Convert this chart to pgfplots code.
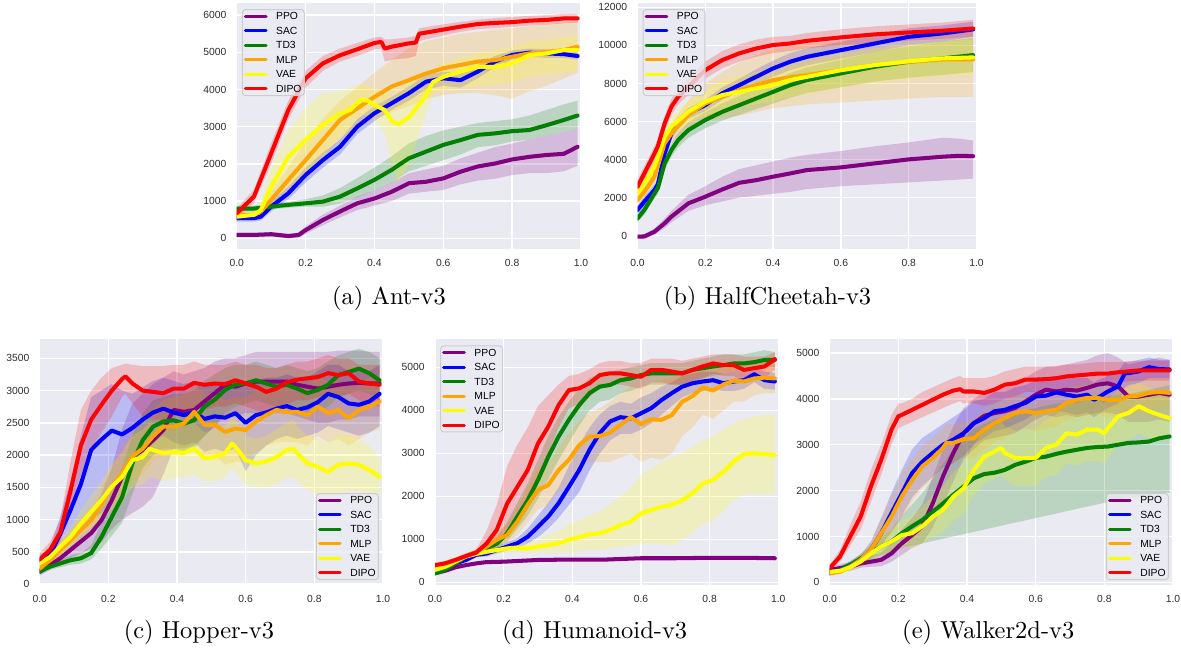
\documentclass[border=0pt]{standalone}
\usepackage{fontspec}
\usepackage{pgfplots}
\usepackage{pgfplotstable}
\pgfplotsset{compat=1.18}
\usepgfplotslibrary{fillbetween}
\newfontfamily\sansf{Liberation Sans}
\definecolor{bgc}{RGB}{234,234,242}
\definecolor{tickc}{RGB}{45,45,45}
\definecolor{cppo}{RGB}{128,0,128}
\definecolor{csac}{RGB}{0,0,255}
\definecolor{ctd}{RGB}{0,128,0}
\definecolor{cmlp}{RGB}{255,165,0}
\definecolor{cvae}{RGB}{255,255,0}
\definecolor{cdipo}{RGB}{255,0,0}

% ---------------- Ant-v3 ----------------
\pgfplotstableread{
x m lo hi
0 90 30 150
0.05 90 30 150
0.1 110 50 170
0.15 60 0 120
0.18 90 20 160
0.2 220 120 320
0.25 490 350 630
0.3 720 560 880
0.35 940 760 1120
0.4 1070 880 1280
0.45 1250 1000 1500
0.5 1480 1200 1750
0.55 1520 1250 1850
0.6 1610 1300 1950
0.65 1790 1450 2150
0.7 1930 1550 2300
0.75 2010 1600 2450
0.8 2120 1700 2550
0.85 2190 1750 2650
0.9 2240 1750 2750
0.95 2270 1800 2850
0.99 2460 1950 2950
}\antPPO
\pgfplotstableread{
x m lo hi
0 540 450 630
0.05 540 450 630
0.07 580 480 680
0.1 850 720 980
0.15 1210 1050 1380
0.2 1700 1500 1900
0.25 2100 1900 2300
0.3 2460 2250 2650
0.35 3000 2800 3200
0.4 3360 3150 3550
0.45 3630 3450 3800
0.5 3900 3700 4080
0.55 4210 4000 4400
0.6 4300 4100 4480
0.65 4250 4050 4450
0.7 4480 4300 4650
0.75 4750 4600 4900
0.8 4930 4800 5050
0.85 4990 4880 5100
0.9 4970 4850 5080
0.95 4950 4850 5050
0.99 4900 4800 5000
}\antSAC
\pgfplotstableread{
x m lo hi
0 800 720 880
0.05 800 720 880
0.1 850 780 920
0.15 900 820 980
0.2 940 850 1050
0.25 985 850 1150
0.3 1120 930 1350
0.35 1340 1100 1620
0.4 1570 1280 1900
0.45 1840 1500 2200
0.5 2150 1800 2550
0.55 2330 1950 2750
0.6 2510 2100 2900
0.65 2640 2250 3000
0.7 2780 2450 3100
0.75 2820 2500 3150
0.8 2880 2600 3200
0.85 2910 2650 3300
0.9 3040 2750 3450
0.95 3180 2850 3600
0.99 3300 2950 3700
}\antTD
\pgfplotstableread{
x m lo hi
0 630 550 720
0.05 630 550 720
0.07 720 620 820
0.1 1030 850 1250
0.15 1570 1300 1900
0.2 2100 1750 2600
0.25 2640 2200 3200
0.3 3180 2650 3700
0.35 3490 2950 4050
0.4 3800 3200 4450
0.45 4080 3400 4800
0.5 4250 3550 5100
0.55 4430 3750 5300
0.6 4570 3850 5400
0.65 4660 3900 5500
0.7 4750 3900 5550
0.75 4790 3850 5600
0.8 4880 3750 5650
0.85 4970 3950 5700
0.9 5010 4100 5750
0.95 5060 4300 5800
0.99 5150 4450 5850
}\antMLP
\pgfplotstableread{
x m lo hi
0 580 500 660
0.05 630 530 730
0.07 760 620 950
0.1 1390 1000 1900
0.15 2190 1400 2900
0.2 2640 1700 3500
0.25 3050 2200 3900
0.3 3350 2700 3950
0.33 3450 2900 4050
0.36 3720 3300 4150
0.38 3700 3300 4100
0.4 3580 3200 4000
0.43 3450 2800 3950
0.45 3150 2000 3850
0.47 3070 1500 4000
0.5 3250 2000 4200
0.53 3600 2800 4300
0.55 3850 3300 4400
0.57 4200 3900 4550
0.6 4340 4000 4700
0.65 4480 4050 4850
0.7 4610 4100 5000
0.75 4610 4150 5050
0.8 4700 4200 5150
0.85 4925 4350 5300
0.9 4970 4400 5350
0.95 5060 4450 5400
0.99 5060 4500 5450
}\antVAE
\pgfplotstableread{
x m lo hi
0 670 550 800
0.05 1120 950 1300
0.1 2280 2000 2550
0.15 3450 3200 3700
0.2 4300 4050 4500
0.25 4700 4500 4900
0.3 4920 4750 5100
0.35 5080 4900 5250
0.4 5250 5080 5400
0.42 5280 5100 5420
0.43 5100 4750 5350
0.45 5150 4800 5350
0.5 5240 4850 5400
0.52 5260 4900 5450
0.53 5500 5300 5650
0.55 5530 5350 5680
0.6 5610 5450 5750
0.65 5690 5550 5820
0.7 5760 5620 5880
0.75 5790 5650 5920
0.8 5810 5680 5950
0.85 5850 5720 5980
0.9 5870 5740 6000
0.95 5910 5780 6030
0.99 5910 5800 6030
}\antDIPO

% ---------------- HalfCheetah-v3 ----------------
\pgfplotstableread{
x m lo hi
0 -50 -150 50
0.02 -40 -150 70
0.05 210 50 380
0.08 650 400 900
0.1 1000 700 1300
0.15 1700 1300 2150
0.2 2050 1600 2600
0.25 2430 1800 3100
0.3 2780 2000 3500
0.35 2920 2100 3700
0.4 3100 2200 3900
0.45 3270 2300 4100
0.5 3450 2450 4250
0.6 3590 2600 4450
0.7 3800 2700 4700
0.8 4010 2800 4900
0.9 4150 2900 5150
0.95 4200 2950 5100
0.99 4180 3000 5000
}\hcPPO
\pgfplotstableread{
x m lo hi
0 1350 1150 1550
0.02 1790 1550 2050
0.05 2400 2150 2700
0.06 2700 2400 3000
0.08 4320 4000 4650
0.1 5380 5050 5700
0.12 5900 5600 6200
0.15 6430 6150 6700
0.2 6860 6550 7150
0.25 7480 7150 7800
0.3 7910 7550 8250
0.35 8350 7950 8750
0.4 8790 8350 9200
0.45 9140 8700 9600
0.5 9400 8950 9850
0.6 9750 9300 10200
0.7 10100 9650 10550
0.8 10450 10000 10900
0.9 10630 10200 11050
0.99 10840 10450 11250
}\hcSAC
\pgfplotstableread{
x m lo hi
0 910 700 1120
0.02 1350 1100 1600
0.05 2220 1950 2500
0.06 2500 2200 2800
0.08 3800 3450 4150
0.1 4500 4150 4850
0.12 5030 4650 5400
0.15 5550 5150 5950
0.2 6080 5650 6500
0.25 6510 6050 6950
0.3 6860 6350 7350
0.35 7210 6650 7750
0.4 7560 6950 8150
0.45 7910 7250 8550
0.5 8180 7500 8850
0.6 8530 7800 9250
0.7 8880 8100 9650
0.8 9140 8300 9950
0.9 9320 8450 10200
0.99 9490 8600 10400
}\hcTD
\pgfplotstableread{
x m lo hi
0 1870 1600 2150
0.02 2300 2000 2600
0.05 3100 2750 3450
0.08 4850 4400 5300
0.1 5380 4900 5900
0.15 6340 5700 7100
0.2 6950 6000 8000
0.25 7300 6200 8600
0.3 7650 6300 9100
0.35 7910 6500 9500
0.4 8180 6700 9800
0.45 8320 6800 9950
0.5 8440 6900 10100
0.6 8700 7000 10250
0.7 8970 7100 10400
0.8 9140 7200 10600
0.9 9260 7300 10750
0.99 9260 7300 10800
}\hcMLP
\pgfplotstableread{
x m lo hi
0 2220 1900 2550
0.02 2750 2400 3100
0.05 3620 3200 4000
0.08 5200 4700 5700
0.1 5730 5200 6250
0.15 6510 5900 7100
0.2 7040 6300 7700
0.25 7390 6600 8150
0.3 7560 6750 8400
0.35 7740 6900 8600
0.4 7910 7050 8800
0.45 8180 7300 9050
0.5 8350 7450 9250
0.6 8700 7800 9600
0.7 8970 8050 9850
0.8 9170 8250 10050
0.9 9320 8400 10200
0.99 9370 8450 10300
}\hcVAE
\pgfplotstableread{
x m lo hi
0 2570 2200 2950
0.02 3270 2900 3650
0.05 4320 3950 4700
0.06 4700 4300 5100
0.08 5900 5500 6300
0.1 6780 6350 7200
0.12 7300 6900 7700
0.15 7830 7400 8250
0.2 8700 8250 9150
0.25 9230 8800 9700
0.3 9580 9150 10050
0.35 9840 9400 10300
0.4 10020 9600 10450
0.45 10100 9700 10500
0.5 10240 9850 10650
0.6 10420 10000 10850
0.7 10580 10150 11000
0.8 10680 10250 11100
0.9 10770 10350 11200
0.99 10890 10450 11350
}\hcDIPO

% ---------------- Hopper-v3 ----------------
\pgfplotstableread{
x m lo hi
0 190 130 250
0.03 290 220 360
0.06 400 300 500
0.09 530 400 680
0.12 660 480 850
0.15 790 550 1050
0.18 990 650 1400
0.21 1300 850 1800
0.24 1660 1000 2400
0.27 1970 1100 2800
0.30 2080 1200 2950
0.33 2230 1350 3100
0.36 2390 1700 3200
0.39 2700 2100 3300
0.42 2670 2100 3250
0.45 2700 2150 3300
0.48 2830 2300 3350
0.51 2960 2450 3450
0.54 3090 2600 3500
0.57 3060 2600 3500
0.60 3110 2650 3550
0.63 3140 2650 3600
0.66 3140 2650 3600
0.69 3140 2650 3600
0.72 3140 2650 3600
0.75 3090 2600 3600
0.78 3060 2550 3600
0.81 3030 2500 3600
0.84 3060 2500 3600
0.87 3090 2550 3620
0.90 3110 2550 3620
0.93 3120 2600 3620
0.96 3110 2600 3600
0.99 3110 2600 3600
}\hoPPO
\pgfplotstableread{
x m lo hi
0 370 300 450
0.03 450 350 560
0.06 780 550 1050
0.09 1150 750 1600
0.12 1550 900 2300
0.15 2080 1000 2900
0.18 2240 1100 3000
0.21 2380 1300 3100
0.24 2320 1600 3000
0.27 2420 1900 2950
0.30 2550 2100 3050
0.33 2660 2200 3150
0.36 2720 2300 3200
0.39 2660 2200 3150
0.42 2620 2150 3100
0.45 2660 2200 3150
0.48 2560 2050 3100
0.51 2600 2100 3100
0.54 2580 2050 3100
0.57 2650 2100 3150
0.60 2500 1750 3150
0.63 2620 2000 3150
0.66 2660 2150 3200
0.69 2720 2250 3200
0.72 2760 2300 3250
0.75 2700 2250 3200
0.78 2740 2300 3200
0.81 2820 2350 3300
0.84 2950 2450 3400
0.87 2900 2400 3400
0.90 2800 2350 3300
0.93 2780 2300 3300
0.96 2830 2350 3300
0.99 2950 2450 3400
}\hoSAC
\pgfplotstableread{
x m lo hi
0 200 150 250
0.03 270 220 320
0.06 320 260 380
0.09 370 300 440
0.12 400 320 480
0.15 480 380 600
0.18 730 550 950
0.21 1040 750 1400
0.24 1350 950 1800
0.27 1870 1400 2300
0.30 2230 1800 2650
0.33 2440 2000 2850
0.36 2520 2100 2900
0.39 2540 2100 2950
0.42 2490 2050 2950
0.45 2540 2100 3000
0.48 2750 2300 3150
0.51 2860 2450 3250
0.54 3010 2650 3350
0.57 3090 2750 3400
0.60 3110 2800 3400
0.63 3160 2850 3450
0.66 3110 2800 3400
0.69 3060 2750 3350
0.72 3090 2800 3400
0.75 3030 2750 3350
0.78 2960 2650 3300
0.81 3010 2700 3350
0.84 3090 2750 3450
0.87 3240 2900 3550
0.90 3290 2950 3600
0.93 3340 3000 3650
0.96 3270 2950 3600
0.99 3160 2850 3500
}\hoTD
\pgfplotstableread{
x m lo hi
0 240 180 300
0.03 370 300 450
0.06 530 420 650
0.09 680 540 830
0.12 840 660 1030
0.15 990 780 1220
0.18 1250 1000 1500
0.21 1510 1200 1850
0.24 1720 1350 2100
0.27 1980 1600 2350
0.30 2100 1700 2500
0.33 2290 1900 2700
0.36 2440 2000 2850
0.39 2440 2000 2900
0.42 2490 2050 2950
0.45 2670 2200 3100
0.48 2470 2000 2950
0.51 2470 2000 2950
0.54 2360 1850 2850
0.57 2410 1900 2900
0.60 2390 1900 2900
0.63 2520 2050 3000
0.66 2620 2150 3100
0.69 2700 2200 3150
0.72 2670 2200 3150
0.75 2670 2200 3150
0.78 2620 2150 3100
0.81 2750 2300 3200
0.84 2650 2200 3150
0.87 2700 2250 3150
0.90 2570 2150 3050
0.93 2700 2250 3150
0.96 2750 2350 3200
0.99 2830 2400 3250
}\hoMLP
\pgfplotstableread{
x m lo hi
0 320 250 400
0.03 420 340 500
0.06 580 460 700
0.09 730 580 880
0.12 940 750 1150
0.15 1120 880 1380
0.18 1300 1000 1600
0.21 1510 1150 1850
0.24 1660 1300 2050
0.27 1920 1500 2300
0.30 1970 1550 2400
0.32 2100 1650 2500
0.33 2080 1650 2500
0.36 2030 1600 2450
0.39 2050 1650 2450
0.42 2030 1650 2450
0.45 2100 1700 2500
0.48 1950 1600 2350
0.51 1970 1600 2400
0.54 2030 1650 2450
0.56 2180 1800 2600
0.57 2130 1750 2550
0.60 1920 1550 2300
0.63 1870 1500 2250
0.66 1900 1500 2300
0.69 1970 1550 2400
0.72 2080 1650 2500
0.74 2100 1650 2550
0.75 2030 1600 2450
0.78 1870 1450 2300
0.81 1820 1400 2250
0.84 1740 1300 2200
0.87 1850 1400 2300
0.90 1870 1450 2300
0.93 1850 1450 2250
0.96 1770 1400 2150
0.99 1660 1400 1950
}\hoVAE
\pgfplotstableread{
x m lo hi
0 380 300 480
0.03 530 420 650
0.06 800 650 1000
0.09 1450 1150 1900
0.12 2150 1700 2700
0.15 2550 2100 3000
0.18 2780 2350 3200
0.21 3000 2600 3350
0.24 3180 2900 3400
0.25 3220 2950 3420
0.27 3110 2800 3400
0.30 3000 2600 3380
0.33 2980 2550 3380
0.36 2960 2550 3380
0.39 3030 2600 3400
0.42 3030 2650 3400
0.45 3120 2750 3450
0.48 3090 2700 3400
0.51 3110 2750 3400
0.54 3100 2750 3400
0.57 3160 2800 3450
0.60 3110 2750 3400
0.63 3060 2700 3400
0.66 2980 2650 3350
0.69 3030 2700 3350
0.72 3130 2800 3400
0.75 3170 2850 3450
0.78 3190 2850 3450
0.81 3210 2900 3500
0.84 3270 2950 3550
0.87 3240 2900 3500
0.90 3270 2950 3500
0.93 3140 2850 3400
0.96 3110 2800 3400
0.99 3090 2750 3400
}\hoDIPO

% ---------------- Humanoid-v3 ----------------
\pgfplotstableread{
x m lo hi
0 210 180 240
0.03 270 240 300
0.06 350 320 380
0.09 400 370 430
0.12 440 410 470
0.15 470 440 500
0.2 480 450 510
0.3 520 490 550
0.4 530 500 560
0.5 530 500 560
0.6 560 530 590
0.7 560 530 590
0.8 570 540 600
0.9 570 540 600
0.99 560 530 590
}\huPPO
\pgfplotstableread{
x m lo hi
0 250 200 300
0.03 330 280 380
0.06 440 380 500
0.09 520 460 580
0.12 640 580 700
0.15 670 600 740
0.18 750 670 830
0.21 830 740 930
0.24 910 800 1030
0.27 1060 900 1250
0.30 1290 1050 1550
0.33 1530 1250 1850
0.36 1840 1500 2200
0.39 2220 1800 2700
0.42 2610 2100 3200
0.45 3080 2600 3600
0.48 3470 3000 3900
0.51 3740 3300 4100
0.54 3840 3450 4200
0.57 3810 3450 4150
0.60 3930 3550 4300
0.63 4050 3700 4400
0.66 4240 3900 4550
0.69 4400 4100 4650
0.72 4550 4300 4800
0.75 4630 4400 4850
0.78 4670 4450 4900
0.81 4700 4500 4900
0.84 4630 4450 4850
0.87 4670 4450 4900
0.90 4700 4500 4900
0.93 4840 4650 5000
0.96 4700 4500 4900
0.99 4670 4480 4870
}\huSAC
\pgfplotstableread{
x m lo hi
0 210 160 260
0.03 290 240 340
0.06 440 380 500
0.09 600 530 670
0.12 690 620 760
0.15 790 700 880
0.18 900 780 1050
0.21 1140 950 1400
0.24 1530 1250 1850
0.27 1910 1550 2300
0.30 2380 1950 2850
0.33 2920 2400 3400
0.36 3390 2850 3850
0.39 3780 3250 4200
0.42 4120 3650 4500
0.45 4400 4000 4750
0.48 4550 4200 4850
0.51 4590 4250 4900
0.54 4700 4400 4950
0.57 4740 4450 5000
0.60 4820 4550 5050
0.63 4860 4600 5100
0.66 4860 4600 5100
0.69 4860 4600 5100
0.72 4860 4600 5100
0.75 4940 4700 5150
0.78 4980 4750 5200
0.81 5020 4800 5250
0.84 5050 4850 5300
0.87 5090 4900 5300
0.90 5090 4900 5300
0.93 5120 4950 5350
0.96 5170 5000 5400
0.99 5170 5000 5350
}\huTD
\pgfplotstableread{
x m lo hi
0 360 310 410
0.03 440 380 500
0.06 520 460 580
0.09 600 540 660
0.12 690 620 760
0.15 830 720 950
0.18 990 850 1150
0.21 1100 900 1350
0.24 1410 1100 1750
0.27 1800 1400 2200
0.30 2150 1700 2650
0.33 2260 1800 2750
0.36 2610 2100 3150
0.39 2850 2300 3450
0.42 3190 2600 3750
0.45 3390 2800 3950
0.48 3400 2800 4050
0.51 3480 2800 4200
0.54 3660 2900 4400
0.57 3840 3000 4550
0.60 3680 2800 4550
0.63 3790 2900 4650
0.66 3780 2850 4700
0.69 3890 3000 4750
0.72 4200 3400 4900
0.75 4330 3600 4950
0.78 4530 3900 5000
0.81 4460 3800 5050
0.84 4600 4000 5100
0.87 4690 4200 5100
0.90 4670 4200 5100
0.93 4740 4350 5100
0.96 4760 4400 5100
0.99 4740 4400 5050
}\huMLP
\pgfplotstableread{
x m lo hi
0 290 240 340
0.03 360 310 410
0.06 480 420 540
0.09 600 540 660
0.12 660 600 720
0.15 710 640 780
0.18 750 670 830
0.21 790 700 880
0.24 810 710 920
0.27 790 680 920
0.30 830 680 1000
0.33 870 680 1100
0.36 910 680 1200
0.39 990 700 1350
0.42 1050 720 1450
0.45 1120 750 1550
0.48 1140 750 1650
0.51 1220 780 1800
0.54 1330 820 2000
0.57 1410 850 2200
0.60 1600 900 2500
0.63 1680 900 2650
0.66 1760 900 2800
0.69 1800 850 2900
0.72 1910 1000 3000
0.75 2070 1150 3150
0.78 2300 1350 3300
0.81 2380 1450 3400
0.84 2570 1650 3550
0.87 2810 1900 3700
0.90 2980 2050 3800
0.93 3000 2050 3850
0.96 2980 2050 3900
0.99 2960 2050 3900
}\huVAE
\pgfplotstableread{
x m lo hi
0 400 340 460
0.03 440 380 500
0.06 520 460 580
0.09 610 540 680
0.12 690 620 760
0.15 900 700 1200
0.18 1220 800 1800
0.21 1830 1100 2700
0.24 2220 1400 3200
0.27 2610 1800 3600
0.30 3230 2500 4100
0.33 3620 3000 4350
0.36 4120 3600 4600
0.39 4470 4050 4800
0.42 4510 4150 4850
0.45 4630 4300 4950
0.48 4820 4550 5100
0.51 4860 4600 5150
0.54 4860 4600 5150
0.57 4820 4550 5100
0.60 4780 4500 5100
0.63 4940 4650 5200
0.66 4940 4650 5200
0.69 4900 4600 5200
0.72 4860 4600 5150
0.75 4940 4650 5200
0.78 5020 4750 5250
0.81 5090 4850 5300
0.84 5050 4800 5300
0.87 5050 4800 5300
0.90 4940 4650 5250
0.93 4980 4700 5250
0.96 5020 4750 5250
0.99 5190 4950 5350
}\huDIPO

% ---------------- Walker2d-v3 ----------------
\pgfplotstableread{
x m lo hi
0 270 200 350
0.03 310 230 400
0.06 340 250 440
0.09 410 320 520
0.12 450 340 580
0.15 490 350 650
0.18 630 450 850
0.21 850 600 1150
0.24 1030 750 1400
0.27 1220 850 1700
0.30 1720 1200 2300
0.33 2310 1700 2900
0.36 2820 2200 3400
0.39 3250 2700 3800
0.42 3470 2900 4000
0.45 3630 3100 4150
0.48 3690 3150 4200
0.51 3730 3200 4250
0.54 3800 3250 4350
0.57 3940 3400 4450
0.60 4090 3550 4600
0.63 4200 3650 4700
0.66 4160 3600 4700
0.69 4200 3650 4750
0.72 4180 3600 4800
0.75 4240 3650 4850
0.78 4310 3700 4950
0.81 4340 3700 5000
0.84 4270 3650 4900
0.87 4050 3500 4750
0.90 4050 3500 4800
0.93 4090 3500 4850
0.96 4130 3550 4900
0.99 4090 3500 4850
}\waPPO
\pgfplotstableread{
x m lo hi
0 200 150 260
0.03 270 210 340
0.06 380 300 460
0.09 490 380 600
0.12 710 550 880
0.15 1070 800 1400
0.18 1510 1100 1950
0.21 1940 1450 2450
0.24 2380 1850 2900
0.27 2630 2100 3150
0.30 2820 2300 3300
0.33 3000 2500 3450
0.36 3110 2600 3600
0.39 3250 2750 3750
0.42 3470 3000 3950
0.45 3580 3150 4000
0.48 3730 3300 4150
0.51 3760 3350 4150
0.54 3840 3450 4250
0.57 3910 3550 4300
0.60 4050 3700 4400
0.63 4070 3700 4450
0.66 4140 3750 4500
0.69 4090 3700 4450
0.72 4050 3650 4450
0.75 4090 3700 4450
0.77 3980 3600 4350
0.78 4020 3650 4400
0.81 4160 3800 4500
0.84 4270 3900 4600
0.86 4560 4250 4800
0.87 4560 4300 4800
0.90 4600 4350 4850
0.93 4690 4450 4900
0.96 4650 4450 4850
0.99 4640 4450 4850
}\waSAC
\pgfplotstableread{
x m lo hi
0 200 150 260
0.03 270 210 340
0.06 380 300 460
0.09 520 420 620
0.12 650 500 800
0.15 780 600 980
0.18 890 650 1150
0.21 1070 750 1450
0.24 1220 800 1700
0.27 1360 850 1950
0.30 1540 900 2250
0.33 1720 950 2600
0.36 1910 1000 2900
0.39 2090 1050 3150
0.42 2270 1100 3350
0.45 2360 1150 3450
0.48 2390 1200 3550
0.51 2450 1250 3600
0.54 2560 1300 3700
0.57 2630 1350 3750
0.60 2710 1400 3800
0.63 2740 1450 3850
0.66 2800 1500 3900
0.69 2850 1550 3900
0.72 2890 1600 3950
0.75 2930 1650 4000
0.78 2950 1700 4000
0.81 2960 1750 4050
0.84 3000 1800 4100
0.87 3040 1850 4100
0.90 3050 1850 4150
0.93 3070 1900 4200
0.96 3140 1950 4250
0.99 3180 1950 4300
}\waTD
\pgfplotstableread{
x m lo hi
0 200 150 260
0.03 230 180 290
0.06 340 270 420
0.09 490 390 600
0.12 710 550 900
0.15 1070 800 1400
0.18 1430 1050 1850
0.21 1870 1400 2350
0.24 2230 1750 2700
0.27 2530 2050 3000
0.30 2710 2250 3150
0.33 2930 2500 3350
0.34 3040 2600 3450
0.36 3040 2600 3450
0.39 3120 2700 3500
0.42 3140 2700 3550
0.45 3330 2900 3750
0.48 3470 3050 3900
0.51 3580 3150 4000
0.54 3690 3300 4100
0.57 3730 3350 4100
0.60 3690 3300 4050
0.63 3730 3350 4100
0.66 3760 3400 4150
0.69 3910 3550 4250
0.72 3980 3600 4300
0.75 4020 3650 4350
0.78 4020 3650 4350
0.81 3980 3600 4300
0.84 3970 3600 4300
0.87 4050 3700 4400
0.90 4070 3700 4400
0.93 4130 3750 4450
0.96 4150 3800 4450
0.99 4130 3800 4450
}\waMLP
\pgfplotstableread{
x m lo hi
0 230 170 290
0.03 250 190 320
0.06 330 250 420
0.09 450 350 560
0.12 630 480 800
0.15 780 580 1000
0.18 890 650 1150
0.21 1030 750 1350
0.24 1070 750 1450
0.27 1220 850 1650
0.30 1430 1000 1900
0.33 1580 1100 2100
0.36 1870 1350 2400
0.39 2050 1500 2600
0.42 2450 1900 3000
0.45 2740 2150 3300
0.48 2850 2250 3400
0.50 2930 2350 3500
0.51 2820 2250 3400
0.54 2710 2100 3300
0.57 2710 2100 3350
0.60 2710 2100 3350
0.63 2930 2300 3550
0.66 3000 2350 3650
0.69 3250 2600 3900
0.72 3220 2550 3900
0.75 3330 2650 4000
0.78 3330 2650 4000
0.80 3250 2600 3900
0.81 3360 2700 4000
0.84 3620 3000 4200
0.87 3690 3100 4250
0.90 3840 3250 4350
0.93 3730 3150 4250
0.96 3650 3100 4150
0.99 3580 3150 4000
}\waVAE
\pgfplotstableread{
x m lo hi
0 310 250 380
0.03 560 450 700
0.06 1000 800 1250
0.09 1430 1150 1750
0.12 2090 1750 2450
0.15 2670 2350 3000
0.18 3330 3000 3650
0.20 3620 3350 3900
0.21 3650 3400 3900
0.24 3760 3500 4000
0.27 3870 3600 4150
0.30 3980 3700 4250
0.33 4090 3800 4350
0.36 4180 3900 4450
0.38 4210 3950 4500
0.39 4160 3900 4450
0.42 4160 3900 4450
0.45 4130 3850 4450
0.48 4200 3900 4500
0.51 4310 4000 4600
0.54 4340 4050 4650
0.57 4420 4150 4700
0.60 4420 4150 4700
0.63 4430 4150 4700
0.66 4450 4200 4720
0.69 4490 4250 4750
0.72 4510 4250 4750
0.75 4530 4300 4780
0.78 4550 4300 4800
0.81 4550 4300 4800
0.84 4580 4350 4800
0.87 4600 4380 4820
0.90 4620 4400 4830
0.93 4620 4400 4830
0.96 4620 4400 4830
0.99 4620 4400 4830
}\waDIPO

\newcommand{\series}[3]{%
  \addplot[draw=none, mark=none, forget plot, name path=L#3] table[x=x,y=lo]{#1};
  \addplot[draw=none, mark=none, forget plot, name path=H#3] table[x=x,y=hi]{#1};
  \addplot[fill=#2, fill opacity=0.2, draw=none, forget plot] fill between[of=L#3 and H#3];
  \addplot[#2, mark=none, line width=1.6pt, line join=round, line cap=round] table[x=x,y=m]{#1};
}

\pgfplotsset{
  rl/.style={
    scale only axis,
    xmin=0, xmax=1,
    axis background/.style={fill=bgc},
    axis line style={draw=none},
    major tick length=0pt,
    grid=major,
    major grid style={white, line width=0.6pt},
    xtick={0,0.2,0.4,0.6,0.8,1.0},
    xticklabels={0.0,0.2,0.4,0.6,0.8,1.0},
    scaled ticks=false,
    /pgf/number format/assume math mode=true,
    tick label style={font=\sansf\fontsize{4.1}{4.5}\selectfont, text=tickc, inner sep=0pt},
    xticklabel style={yshift=-3.85pt},
    yticklabel style={xshift=-3.9pt},
    legend cell align=left,
    legend image code/.code={\draw[line width=1.2pt, line cap=round] (1.2pt,0pt) -- (9.4pt,0pt);},
    legend style={font=\sansf\fontsize{4.1}{4.5}\selectfont, fill=bgc, fill opacity=0.8, text opacity=1,
      draw=black!20, line width=0.4pt, rounded corners=1.2pt, inner xsep=0.6pt, inner ysep=0.6pt,
      row sep=1.65pt, column sep=0pt,
      nodes={inner sep=0.5pt, text height=2.9pt, text depth=0.2pt},
      /tikz/every odd column/.append style={column sep=2.9pt}},
    legend entries={PPO,SAC,TD3,MLP,VAE,DIPO},
  },
  tl/.style={legend style={at={(0.015,0.975)}, anchor=north west}},
  br/.style={legend style={at={(0.988,0.02)}, anchor=south east}},
}

\begin{document}
\begin{tikzpicture}
\path (0pt,0pt) rectangle (468pt,-256.4pt);

% (a) Ant
\begin{axis}[rl, tl, at={(93.80pt,-1.19pt)}, anchor=north west, width=136.44pt, height=97.49pt,
  ymin=-288, ymax=6325, ytick={0,1000,2000,3000,4000,5000,6000},
  yticklabels={0,1000,2000,3000,4000,5000,6000}]
\series{\antPPO}{cppo}{a}
\series{\antSAC}{csac}{b}
\series{\antTD}{ctd}{c}
\series{\antMLP}{cmlp}{d}
\series{\antVAE}{cvae}{e}
\series{\antDIPO}{cdipo}{f}
\end{axis}

% (b) HalfCheetah
\begin{axis}[rl, tl, at={(252.63pt,-1.19pt)}, anchor=north west, width=134.34pt, height=97.49pt,
  ymin=-700, ymax=12228, ytick={0,2000,4000,6000,8000,10000,12000},
  yticklabels={0,2000,4000,6000,8000,10000,12000}]
\series{\hcPPO}{cppo}{a}
\series{\hcSAC}{csac}{b}
\series{\hcTD}{ctd}{c}
\series{\hcMLP}{cmlp}{d}
\series{\hcVAE}{cvae}{e}
\series{\hcDIPO}{cdipo}{f}
\end{axis}

% (c) Hopper
\begin{axis}[rl, br, at={(15.73pt,-134.46pt)}, anchor=north west, width=136.04pt, height=97.37pt,
  ymin=-15, ymax=3795, ytick={0,500,1000,1500,2000,2500,3000,3500},
  yticklabels={0,500,1000,1500,2000,2500,3000,3500}]
\series{\hoPPO}{cppo}{a}
\series{\hoSAC}{csac}{b}
\series{\hoTD}{ctd}{c}
\series{\hoMLP}{cmlp}{d}
\series{\hoVAE}{cvae}{e}
\series{\hoDIPO}{cdipo}{f}
\end{axis}

% (d) Humanoid
\begin{axis}[rl, tl, at={(172.38pt,-134.46pt)}, anchor=north west, width=136.04pt, height=97.37pt,
  ymin=-63, ymax=5651, ytick={0,1000,2000,3000,4000,5000},
  yticklabels={0,1000,2000,3000,4000,5000}]
\series{\huPPO}{cppo}{a}
\series{\huSAC}{csac}{b}
\series{\huTD}{ctd}{c}
\series{\huMLP}{cmlp}{d}
\series{\huVAE}{cvae}{e}
\series{\huDIPO}{cdipo}{f}
\end{axis}

% (e) Walker2d
\begin{axis}[rl, br, at={(328.79pt,-134.46pt)}, anchor=north west, width=136.04pt, height=97.37pt,
  ymin=-59, ymax=5298, ytick={0,1000,2000,3000,4000,5000},
  yticklabels={0,1000,2000,3000,4000,5000}]
\series{\waPPO}{cppo}{a}
\series{\waSAC}{csac}{b}
\series{\waTD}{ctd}{c}
\series{\waMLP}{cmlp}{d}
\series{\waVAE}{cvae}{e}
\series{\waDIPO}{cdipo}{f}
\end{axis}

\begin{scope}[every node/.style={anchor=base west, inner sep=0pt, font=\fontsize{9.7}{11}\selectfont}]
\node at (131.45pt,-120.67pt) {(a) Ant-v3};
\node at (262.85pt,-120.67pt) {(b) HalfCheetah-v3};
\node at (48.86pt,-252.95pt) {(c) Hopper-v3};
\node at (198.81pt,-252.95pt) {(d) Humanoid-v3};
\node at (357.33pt,-252.95pt) {(e) Walker2d-v3};
\end{scope}
\end{tikzpicture}
\end{document}
